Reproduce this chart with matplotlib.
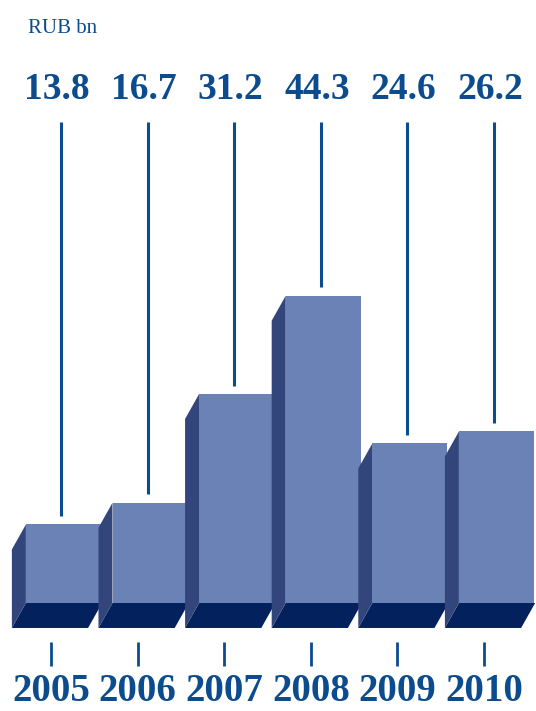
import matplotlib
matplotlib.use('Agg')
import matplotlib.pyplot as plt
from matplotlib.patches import Polygon, Rectangle

years = ['2005', '2006', '2007', '2008', '2009', '2010']
values = [13.8, 16.7, 31.2, 44.3, 24.6, 26.2]
unit_label = 'RUB bn'

text_color = '#0b4b8e'
front_color = '#6a82b5'
side_color = '#33467c'
bottom_color = '#03215c'

fig = plt.figure(figsize=(5.36, 7.11), dpi=100)
ax = fig.add_axes([0, 0, 1, 1])
ax.set_xlim(-0.739, 5.450)
ax.set_ylim(-11.07, 83.73)
ax.axis('off')

half_w = 0.44
dx = 0.162
dy = 3.33

for i, (year, v) in enumerate(zip(years, values)):
    xl, xr = i - half_w, i + half_w
    # bottom face
    ax.add_patch(Polygon([(xl, dy), (xr, dy), (xr - dx, 0), (xl - dx, 0)],
                         closed=True, facecolor=bottom_color, edgecolor='none'))
    # left side face
    ax.add_patch(Polygon([(xl, v), (xl - dx, v - dy), (xl - dx, 0), (xl, dy)],
                         closed=True, facecolor=side_color, edgecolor='none'))
    # front face
    ax.add_patch(Rectangle((xl, dy), xr - xl - 0.015, v - dy, facecolor=front_color, edgecolor='none'))

    # leader line and value
    ax.plot([i - 0.035, i - 0.035], [v + 1.1, 67.5], color=text_color, lw=2.2, solid_capstyle='butt')
    ax.text(i - 0.08, 70.5, f'{v:.1f}', ha='center', va='baseline', color=text_color,
            fontsize=27, fontweight='bold', family='Liberation Serif')

    # year tick and label
    ax.plot([i - 0.15, i - 0.15], [-1.87, -5.07], color=text_color, lw=2.0, solid_capstyle='butt')
    ax.text(i - 0.15, -10.9, year, ha='center', va='bottom', color=text_color,
            fontsize=28, fontweight='bold', family='Liberation Serif')

ax.text(-0.416, 79.3, unit_label, ha='left', va='baseline', color=text_color,
        fontsize=15, family='Liberation Serif')

fig.savefig('out.png', dpi=100)
